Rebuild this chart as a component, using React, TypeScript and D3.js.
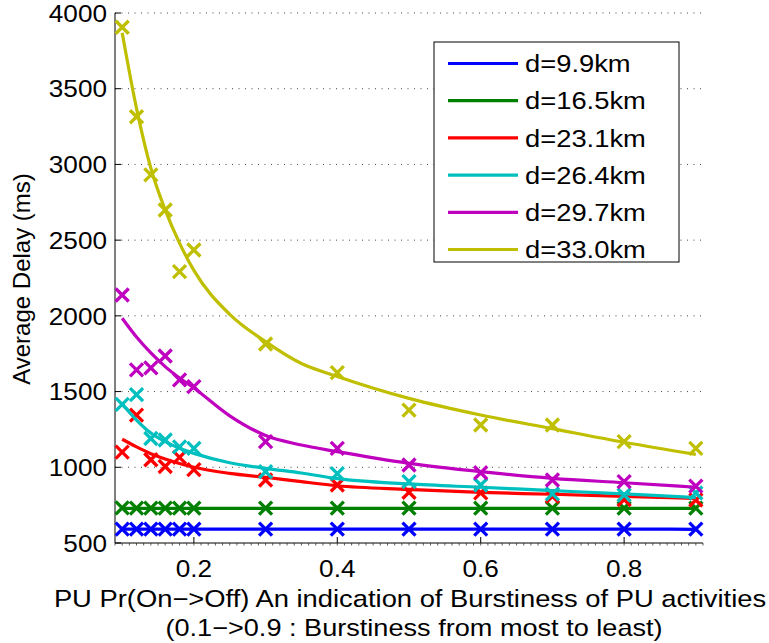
import React from "react";
import * as d3 from "d3";

// Sampled Pr(On->Off) values where the delay was measured
const pointX = [0.1, 0.12, 0.14, 0.16, 0.18, 0.2, 0.3, 0.4, 0.5, 0.6, 0.7, 0.8, 0.9];
// Abscissae of the fitted trend curves
const fitX = [0.1, 0.12, 0.14, 0.16, 0.18, 0.2, 0.25, 0.3, 0.35, 0.4, 0.5, 0.6, 0.7, 0.8, 0.9];

const seriesLabels = ["d=9.9km", "d=16.5km", "d=23.1km", "d=26.4km", "d=29.7km", "d=33.0km"];
const seriesColors = ["#0000ff", "#008000", "#ff0000", "#00bfbf", "#bf00bf", "#bfbf00"];

// Measured average delay (ms)
const measured99 = [592, 592, 592, 592, 592, 592, 592, 592, 592, 592, 592, 592, 592];
const measured165 = [732, 730, 730, 730, 730, 730, 730, 730, 730, 730, 730, 730, 730];
const measured231 = [1100, 1345, 1050, 1005, 1065, 985, 916, 883, 835, 831, 809, 786, 784];
const measured264 = [1415, 1480, 1190, 1180, 1135, 1125, 971, 958, 905, 883, 824, 817, 830];
const measured297 = [2138, 1643, 1656, 1735, 1577, 1533, 1169, 1125, 1015, 964, 916, 905, 876];
const measured330 = [3906, 3315, 2931, 2699, 2292, 2435, 1814, 1625, 1378, 1279, 1279, 1169, 1125];

// Fitted trend curves (ms)
const fit99 = [592, 592, 592, 592, 592, 592, 592, 592, 592, 592, 592, 592, 592, 592, 590];
const fit165 = [728, 728, 728, 728, 728, 728, 728, 728, 728, 728, 728, 728, 728, 728, 728];
const fit231 = [1185, 1135, 1090, 1055, 1025, 1000, 960, 934, 905, 878, 854, 834, 822, 808, 795];
const fit264 = [1418, 1312, 1226, 1169, 1125, 1092, 1030, 993, 962, 925, 890, 868, 846, 824, 800];
const fit297 = [1984, 1860, 1755, 1665, 1590, 1524, 1340, 1210, 1147, 1103, 1026, 971, 927, 898, 868];
const fit330 = [3869, 3370, 2975, 2700, 2480, 2300, 2010, 1830, 1685, 1600, 1455, 1345, 1255, 1165, 1085];

const measuredSeries = [measured99, measured165, measured231, measured264, measured297, measured330];
const fitSeries = [fit99, fit165, fit231, fit264, fit297, fit330];

const xTickValues = [0.2, 0.4, 0.6, 0.8];
const yTickValues = [500, 1000, 1500, 2000, 2500, 3000, 3500, 4000];

const W = 769;
const H = 643;
const plot = { left: 115, right: 703, top: 13, bottom: 543 };
const FONT = "'Liberation Sans', Arial, Helvetica, sans-serif";

// Text drawn with a horizontal stretch around its anchor point
function WideText(props: {
  x: number;
  y: number;
  sx: number;
  size: number;
  anchor?: "start" | "middle" | "end";
  dy?: string;
  children: React.ReactNode;
}) {
  const { x, y, sx, size, anchor = "start", dy, children } = props;
  return (
    <g transform={`translate(${x},${y}) scale(${sx},1)`}>
      <text x={0} y={0} dy={dy} textAnchor={anchor} fontSize={size} fill="#000">
        {children}
      </text>
    </g>
  );
}

export default function App() {
  const x = d3.scaleLinear().domain([0.09, 0.91]).range([plot.left, plot.right]);
  const y = d3.scaleLinear().domain([500, 4000]).range([plot.bottom, plot.top]);

  const line = d3
    .line<[number, number]>()
    .x((d) => x(d[0]))
    .y((d) => y(d[1]))
    .curve(d3.curveMonotoneX);

  const minorTicks = x.ticks(80);
  const m = 6.5; // marker half-size

  return (
    <svg
      width={W}
      height={H}
      style={{ position: "absolute", left: 0, top: 0, background: "#fff" }}
      fontFamily={FONT}
    >
      <rect width={W} height={H} fill="#fff" />

      {/* horizontal dotted grid */}
      {yTickValues
        .filter((v) => v > 500)
        .map((v) => (
          <line
            key={`g${v}`}
            x1={plot.left}
            x2={plot.right}
            y1={y(v)}
            y2={y(v)}
            stroke="#444"
            strokeWidth={1}
            strokeDasharray="1 5.5"
          />
        ))}

      {/* axes */}
      <line x1={plot.left} x2={plot.left} y1={plot.top} y2={plot.bottom} stroke="#000" strokeWidth={1} />
      <line x1={plot.left} x2={plot.right} y1={plot.bottom} y2={plot.bottom} stroke="#000" strokeWidth={1} />

      {minorTicks.map((t, i) => (
        <line
          key={`mt${i}`}
          x1={x(t)}
          x2={x(t)}
          y1={plot.bottom}
          y2={plot.bottom + 2.5}
          stroke="#333"
          strokeWidth={0.8}
        />
      ))}

      {xTickValues.map((t) => (
        <g key={`xt${t}`}>
          <line x1={x(t)} x2={x(t)} y1={plot.bottom} y2={plot.bottom - 6} stroke="#000" strokeWidth={1} />
          <WideText x={x(t)} y={plot.bottom + 34} sx={1.09} size={24} anchor="middle">
            {t.toFixed(1)}
          </WideText>
        </g>
      ))}

      {yTickValues.map((v) => (
        <g key={`yt${v}`}>
          <line x1={plot.left} x2={plot.left + 6} y1={y(v)} y2={y(v)} stroke="#000" strokeWidth={1} />
          <WideText x={plot.left - 8} y={y(v)} dy="0.36em" sx={1.09} size={24} anchor="end">
            {v}
          </WideText>
        </g>
      ))}

      {/* series: fitted curve then measured markers */}
      {fitSeries.map((fit, s) => (
        <g key={`s${s}`}>
          <path
            d={line(fitX.map((fx, i) => [fx, fit[i]] as [number, number])) || ""}
            fill="none"
            stroke={seriesColors[s]}
            strokeWidth={3.2}
          />
          {measuredSeries[s].map((v, i) => {
            const cx = x(pointX[i]);
            const cy = y(v);
            return (
              <path
                key={`p${s}-${i}`}
                d={`M${cx - m},${cy - m}L${cx + m},${cy + m}M${cx - m},${cy + m}L${cx + m},${cy - m}`}
                stroke={seriesColors[s]}
                strokeWidth={3.3}
                fill="none"
              />
            );
          })}
        </g>
      ))}

      {/* legend */}
      <g>
        <rect x={434} y={42} width={245} height={220} fill="#fff" stroke="#000" strokeWidth={1} />
        {seriesLabels.map((lab, i) => {
          const ly = 63.5 + i * 37.2;
          return (
            <g key={`lg${i}`}>
              <line x1={448} x2={518} y1={ly} y2={ly} stroke={seriesColors[i]} strokeWidth={3.2} />
              <WideText x={525} y={ly} dy="0.36em" sx={1.14} size={24}>
                {lab}
              </WideText>
            </g>
          );
        })}
      </g>

      {/* axis titles */}
      <text
        transform={`translate(30,279) rotate(-90)`}
        textAnchor="middle"
        fontSize={24}
      >
        Average Delay (ms)
      </text>
      <WideText x={410} y={607} sx={1.14} size={24} anchor="middle">
        PU Pr(On−&gt;Off) An indication of Burstiness of PU activities
      </WideText>
      <WideText x={414} y={636} sx={1.13} size={24} anchor="middle">
        (0.1−&gt;0.9 : Burstiness from most to least)
      </WideText>
    </svg>
  );
}
